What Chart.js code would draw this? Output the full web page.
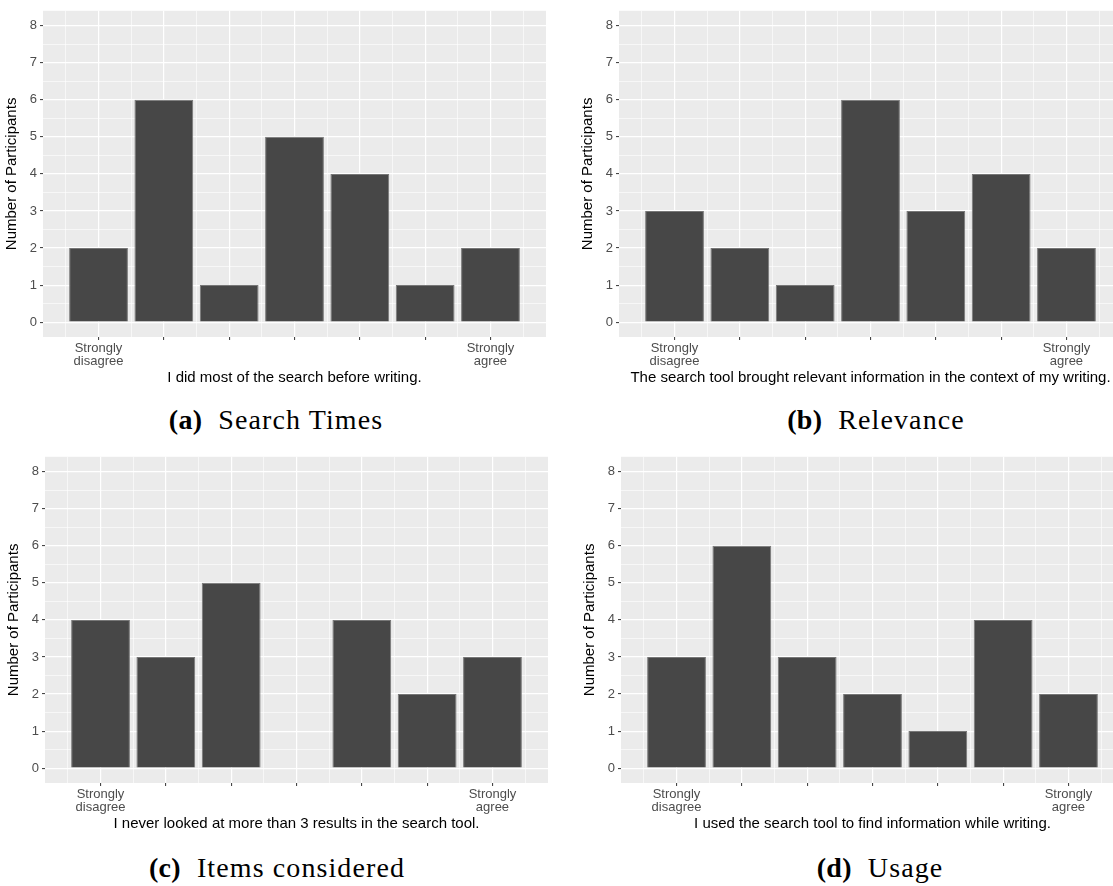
<!DOCTYPE html>
<html>
<head>
<meta charset="utf-8">
<script src="https://cdn.jsdelivr.net/npm/chart.js@4"></script>
<style>
  body { margin: 0; background: #fff; width: 1113px; height: 886px; overflow: hidden; position: relative; }
  .panel { position: absolute; }
  .cap { position: absolute; transform: translateX(-50%); white-space: nowrap;
         font-family: "Liberation Serif", serif; font-size: 28px; letter-spacing: 1.1px; color: #000; line-height: 1; }
  .cap b { margin-right: 16px; letter-spacing: 0.3px; }
</style>
</head>
<body>
<div class="panel" style="left:0px;top:0px"><canvas id="plotA" width="560" height="400"></canvas></div>
<div class="panel" style="left:576px;top:0px"><canvas id="plotB" width="560" height="400"></canvas></div>
<div class="panel" style="left:2px;top:446px"><canvas id="plotC" width="560" height="400"></canvas></div>
<div class="panel" style="left:578px;top:446px"><canvas id="plotD" width="560" height="400"></canvas></div>

<div class="cap" style="left:276px;top:406px"><b>(a)</b>Search Times</div>
<div class="cap" style="left:876px;top:406px"><b>(b)</b>Relevance</div>
<div class="cap" style="left:277px;top:854px"><b>(c)</b>Items considered</div>
<div class="cap" style="left:880px;top:854px"><b>(d)</b>Usage</div>

<script>
// likert positions 1..7
const positions = [1, 2, 3, 4, 5, 6, 7];
const xLabels = [["Strongly", "disagree"], "", "", "", "", "", ["Strongly", "agree"]];
const yTicks = [0, 1, 2, 3, 4, 5, 6, 7, 8];

const searchTimes = [2, 6, 1, 5, 4, 1, 2];
const relevance = [3, 2, 1, 6, 3, 4, 2];
const itemsConsidered = [4, 3, 5, 0, 4, 2, 3];
const usage = [3, 6, 3, 2, 1, 4, 2];

const titleA = "I did most of the search before writing.";
const titleB = "The search tool brought relevant information in the context of my writing.";
const titleC = "I never looked at more than 3 results in the search tool.";
const titleD = "I used the search tool to find information while writing.";

const panelBg = {
    id: "panelBg",
    beforeDraw(chart) {
        const a = chart.chartArea;
        const ctx = chart.ctx;
        ctx.save();
        ctx.fillStyle = "#ebebeb";
        ctx.fillRect(a.left, a.top, a.right - a.left, a.bottom - a.top);
        ctx.restore();
    }
};

// major + minor (half step) grid values
function withMinor(vals) {
    const out = [];
    vals.forEach(v => { out.push(v - 0.5); out.push(v); });
    out.push(vals[vals.length - 1] + 0.5);
    return out;
}

const isMajor = v => Math.abs(v - Math.round(v)) < 1e-6;

function makePanel(id, values, xTitle) {
    new Chart(document.getElementById(id), {
        type: "bar",
        data: {
            datasets: [{
                data: positions.map((p, i) => ({ x: p, y: values[i] })),
                backgroundColor: "#474747",
                borderColor: "#777777",
                borderWidth: c => (c.raw && c.raw.y > 0 ? 1 : 0),
                // ticks sit every half step, so the ruler spacing is 0.5
                barPercentage: 0.9,
                categoryPercentage: 2.0
            }]
        },
        options: {
            responsive: false,
            animation: false,
            layout: { padding: { top: 7, right: 14, left: 0, bottom: 0 } },
            plugins: { legend: { display: false }, tooltip: { enabled: false } },
            scales: {
                x: {
                    type: "linear",
                    min: 0.15,
                    max: 7.85,
                    offset: false,
                    afterBuildTicks: s => { s.ticks = withMinor(positions).map(v => ({ value: v })); },
                    afterFit: s => { s.height = 63; },
                    border: { display: false },
                    grid: {
                        offset: false,
                        color: "#ffffff",
                        lineWidth: c => (isMajor(c.tick.value) ? 1.2 : 0.6),
                        tickColor: c => (isMajor(c.tick.value) ? "#333333" : "rgba(0,0,0,0)"),
                        tickLength: 3,
                        tickWidth: 1
                    },
                    ticks: {
                        autoSkip: false,
                        maxRotation: 0,
                        padding: 2,
                        color: "#4d4d4d",
                        font: { family: "Liberation Sans", size: 13, lineHeight: 1.0 },
                        callback: v => (isMajor(v) ? xLabels[Math.round(v) - 1] : "")
                    },
                    title: {
                        display: true,
                        text: xTitle,
                        color: "#000000",
                        font: { family: "Liberation Sans", size: 15 },
                        padding: { top: 0, bottom: 13 }
                    }
                },
                y: {
                    min: -0.4,
                    max: 8.4,
                    afterBuildTicks: s => { s.ticks = withMinor(yTicks).slice(1, -1).map(v => ({ value: v })); },
                    afterFit: s => { s.width = 43; },
                    border: { display: false },
                    grid: {
                        color: "#ffffff",
                        lineWidth: c => (isMajor(c.tick.value) ? 1.2 : 0.6),
                        tickColor: c => (isMajor(c.tick.value) ? "#333333" : "rgba(0,0,0,0)"),
                        tickLength: 3,
                        tickWidth: 1
                    },
                    ticks: {
                        padding: 3,
                        color: "#4d4d4d",
                        font: { family: "Liberation Sans", size: 13 },
                        callback: v => (isMajor(v) ? String(Math.round(v)) : "")
                    },
                    title: {
                        display: true,
                        text: "Number of Participants",
                        color: "#000000",
                        font: { family: "Liberation Sans", size: 15 },
                        padding: { top: 3, bottom: 0 }
                    }
                }
            }
        },
        plugins: [panelBg]
    });
}

makePanel("plotA", searchTimes, titleA);
makePanel("plotB", relevance, titleB);
makePanel("plotC", itemsConsidered, titleC);
makePanel("plotD", usage, titleD);
</script>
</body>
</html>
